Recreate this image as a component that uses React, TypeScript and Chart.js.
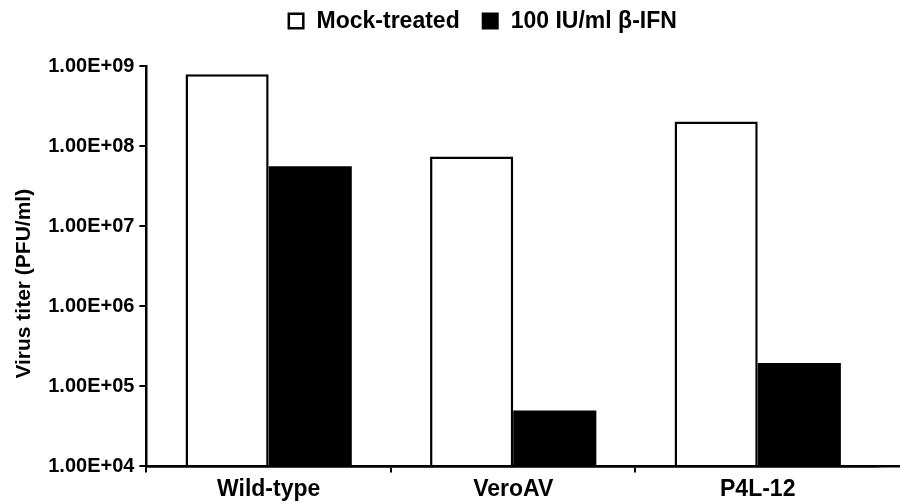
import { useEffect, useRef } from 'react';
import { Chart, registerables } from 'chart.js';

Chart.register(...registerables);

const categories = ['Wild-type', 'VeroAV', 'P4L-12'];
const seriesNames = ['Mock-treated', '100 IU/ml β-IFN'];
const mockValues = [7.9e8, 7.4e7, 2.03e8];
const ifnValues = [5.6e7, 5.0e4, 1.96e5];
const yTickValues = [1e4, 1e5, 1e6, 1e7, 1e8, 1e9];
const yTickLabels = ['1.00E+04', '1.00E+05', '1.00E+06', '1.00E+07', '1.00E+08', '1.00E+09'];
const yAxisTitle = 'Virus titer (PFU/ml)';

const FONT = '"Liberation Sans", Arial, Helvetica, sans-serif';
const AXIS_W = 2.5;

const isInnerGridLine = (c: any) =>
  c && c.type === 'tick' && typeof c.index === 'number' && c.index < categories.length;

const legendPlugin = {
  id: 'customLegend',
  afterDraw(chart: any) {
    const ctx = chart.ctx;
    const ca = chart.chartArea;
    ctx.save();
    ctx.font = `bold 23px ${FONT}`;
    ctx.textBaseline = 'middle';
    ctx.textAlign = 'left';
    const box = 17;
    const gapBoxText = 12;
    const gapItems = 22;
    const items = chart.data.datasets.map((ds: any) => ({
      text: ds.label,
      fill: ds.backgroundColor,
      bw: ds.borderWidth,
    }));
    const widths = items.map((it: any) => ctx.measureText(it.text).width);
    const total =
      items.reduce((s: number, _it: any, i: number) => s + box + gapBoxText + widths[i], 0) +
      gapItems * (items.length - 1);
    let x = (ca.left + ca.right) / 2 - 31 - total / 2;
    const yc = 21;
    items.forEach((it: any, i: number) => {
      ctx.fillStyle = it.fill;
      ctx.fillRect(x, yc - box / 2, box, box);
      if (it.bw) {
        ctx.lineWidth = 2.5;
        ctx.strokeStyle = '#000';
        ctx.strokeRect(x + 1.25, yc - box / 2 + 1.25, box - 2.5, box - 2.5);
      }
      ctx.fillStyle = '#000';
      ctx.fillText(it.text, x + box + gapBoxText, yc + 1);
      x += box + gapBoxText + widths[i] + gapItems;
    });
    ctx.restore();
  },
};

// Redraw the x axis line above the bars, running on to the figure edge as in the reference.
const axisLinePlugin = {
  id: 'axisLine',
  afterDatasetsDraw(chart: any) {
    const ctx = chart.ctx;
    const ca = chart.chartArea;
    const y = Math.round(ca.bottom - AXIS_W / 2) + AXIS_W / 2;
    ctx.save();
    ctx.fillStyle = '#fff';
    ctx.fillRect(ca.right - 3, y + AXIS_W / 2, 6, 8);
    ctx.strokeStyle = '#000';
    ctx.lineWidth = AXIS_W;
    ctx.beginPath();
    ctx.moveTo(ca.left - AXIS_W / 2, y);
    ctx.lineTo(chart.width, y);
    ctx.stroke();
    ctx.restore();
  },
};

export default function App() {
  const canvasRef = useRef<HTMLCanvasElement | null>(null);

  useEffect(() => {
    document.body.style.margin = '0';
    const canvas = canvasRef.current;
    if (!canvas) return;
    const chart = new Chart(canvas, {
      type: 'bar',
      data: {
        labels: categories,
        datasets: [
          {
            label: seriesNames[0],
            data: mockValues,
            backgroundColor: '#ffffff',
            borderColor: '#000000',
            borderWidth: 2.5,
            borderSkipped: 'start',
          },
          {
            label: seriesNames[1],
            data: ifnValues,
            backgroundColor: '#000000',
            borderColor: '#000000',
            borderWidth: 0,
          },
        ],
      },
      options: {
        animation: false,
        responsive: false,
        maintainAspectRatio: false,
        layout: { padding: { top: 66, left: 12, right: 20, bottom: -4 } },
        datasets: {
          bar: { categoryPercentage: 0.68, barPercentage: 1.0 },
        },
        plugins: {
          legend: { display: false },
          tooltip: { enabled: false },
        },
        scales: {
          x: {
            type: 'category',
            offset: true,
            grid: {
              display: true,
              offset: true,
              drawOnChartArea: false,
              drawTicks: true,
              tickLength: 6,
              lineWidth: (c: any) => (isInnerGridLine(c) ? 2 : 0),
              color: (c: any) => (isInnerGridLine(c) ? '#000' : 'rgba(0,0,0,0)'),
            },
            border: { display: true, color: '#000', width: AXIS_W },
            ticks: {
              color: '#000',
              padding: 3,
              font: { family: FONT, size: 23, weight: 'bold' },
              maxRotation: 0,
            },
          },
          y: {
            type: 'logarithmic',
            min: yTickValues[0],
            max: yTickValues[yTickValues.length - 1],
            afterBuildTicks: (scale: any) => {
              scale.ticks = yTickValues.map((v) => ({ value: v }));
            },
            grid: {
              display: true,
              drawOnChartArea: false,
              drawTicks: true,
              tickLength: 7,
              lineWidth: 2,
              color: '#000',
            },
            border: { display: true, color: '#000', width: AXIS_W },
            ticks: {
              color: '#000',
              padding: 5,
              autoSkip: false,
              font: { family: FONT, size: 20, weight: 'bold' },
              callback: (v: any) => {
                const i = yTickValues.indexOf(Number(v));
                return i >= 0 ? yTickLabels[i] : '';
              },
            },
            title: {
              display: true,
              text: yAxisTitle + '      ',
              color: '#000',
              font: { family: FONT, size: 21, weight: 'bold' },
              padding: { top: 0, bottom: 6 },
            },
          },
        },
      },
      plugins: [legendPlugin, axisLinePlugin],
    } as any);
    return () => chart.destroy();
  }, []);

  return (
    <div style={{ width: 900, height: 502 }}>
      <canvas ref={canvasRef} width={900} height={502} style={{ display: 'block' }} />
    </div>
  );
}
